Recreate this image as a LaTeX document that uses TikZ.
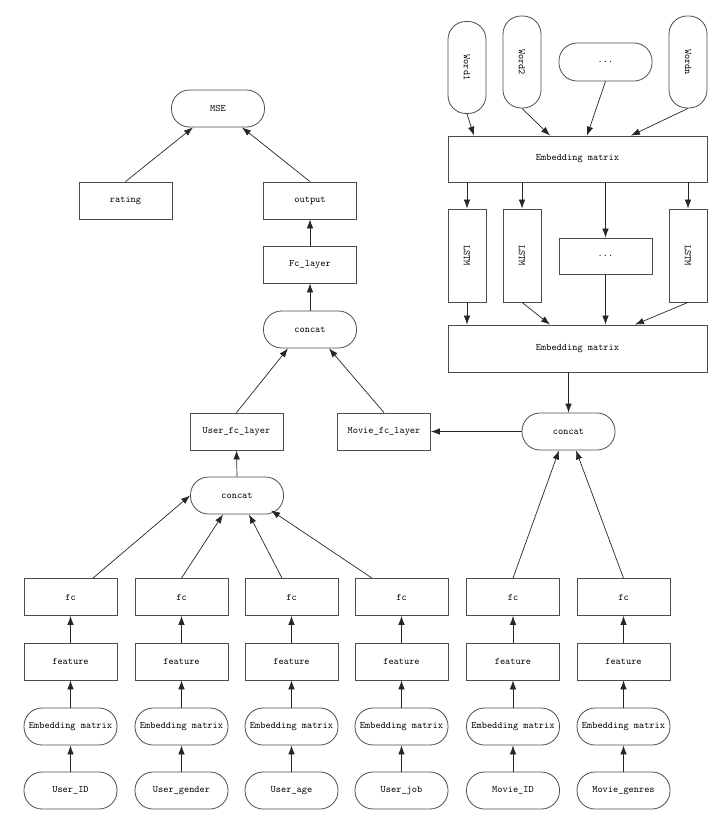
\documentclass[tikz,border=0pt]{standalone}
\usetikzlibrary{arrows.meta,calc}
\begin{document}
\begin{tikzpicture}[x=1pt,y=-1pt,
  every node/.style={font=\ttfamily\fontsize{9.9}{11}\selectfont, inner sep=0pt, text=black},
  box/.style={draw=black!70, line width=0.8pt, minimum width=93pt, minimum height=37pt},
  pill/.style={box, rounded corners=18pt},
  vpill/.style={draw=black!70, line width=0.8pt, minimum width=38pt, minimum height=92pt, rounded corners=18pt},
  vbox/.style={draw=black!70, line width=0.8pt, minimum width=38pt, minimum height=93pt},
  wide/.style={draw=black!70, line width=0.8pt, minimum width=259pt, minimum height=46pt},
  arr/.style={draw=black!85, line width=0.7pt, -{Latex[length=9pt,width=6.5pt]}},
  vtext/.style={rotate=-90}
]
\useasboundingbox (0,0) rectangle (720,817);

% ---------- loss ----------
\node[pill] (mse) at (218,108.5) {MSE};
\node[box] (rating) at (125.5,200.5) {rating};
\node[box] (output) at (310,200.5) {output};
\node[box] (fcl) at (310,264.5) {Fc\_layer};
\node[pill] (tc) at (310,329.5) {concat};
\node[box] (ufl) at (236.5,431.5) {User\_fc\_layer};
\node[box] (mfl) at (384,431.5) {Movie\_fc\_layer};
\node[pill] (uc) at (237,495.5) {concat};
\node[pill] (mc) at (568.5,431.5) {concat};

% ---------- text branch ----------
\node[vpill] (w1) at (467,67.5) {};
\node[vtext] at (w1) {Word1};
\node[vpill] (w2) at (522,62) {};
\node[vtext] at (w2) {Word2};
\node[box, rounded corners=18pt, minimum height=38pt] (wd) at (605.5,62) {...};
\node[vpill] (wn) at (688,62) {};
\node[vtext] at (wn) {Wordn};
\node[wide] (e1) at (577.5,159) {Embedding matrix};

\node[vbox] (l1) at (467,255.5) {};
\node[vtext] at (l1) {LSTM};
\node[vbox] (l2) at (522,255.5) {};
\node[vtext] at (l2) {LSTM};
\node[box, minimum height=36pt] (ld) at (605.5,256) {...};
\node[vbox] (l4) at (688,255.5) {};
\node[vtext] at (l4) {LSTM};
\node[wide, minimum height=47pt] (e2) at (577.5,348.5) {Embedding matrix};

% ---------- feature columns ----------
\foreach \i/\x/\name in {1/70.5/User\_ID, 2/181.5/User\_gender, 3/291.5/User\_age,
                         4/401.5/User\_job, 5/513/Movie\_ID, 6/623.5/Movie\_genres}{
  \node[box] (fc\i) at (\x,597) {fc};
  \node[box] (ft\i) at (\x,661.5) {feature};
  \node[pill] (em\i) at (\x,726.5) {Embedding matrix};
  \node[pill] (in\i) at (\x,790.5) {\name};
  \draw[arr] (in\i.north) -- (em\i.south);
  \draw[arr] (em\i.north) -- (ft\i.south);
  \draw[arr] (ft\i.north) -- (fc\i.south);
}

% ---------- user side ----------
\draw[arr] ($(fc1.north)+(22.5,0)$) -- (uc.west);
\draw[arr] (fc2.north) -- ($(uc.south)+(-14,0)$);
\draw[arr] ($(fc3.north)+(-9.5,0)$) -- ($(uc.south)+(12,0)$);
\draw[arr] ($(fc4.north)+(-29.5,0)$) -- ($(uc.south)+(34,-4)$);
\draw[arr] (uc.north) -- (ufl.south);

% ---------- movie side ----------
\draw[arr] (fc5.north) -- ($(mc.south)+(-9.5,0)$);
\draw[arr] (fc6.north) -- ($(mc.south)+(7.5,0)$);
\draw[arr] (e2.south -| mc) -- (mc.north);
\draw[arr] (mc.west) -- (mfl.east);

% ---------- text branch connectors ----------
\draw[arr] (w1.south) -- ($(e1.north)+(-103.5,0)$);
\draw[arr] (w2.south) -- ($(e1.north)+(-27.5,0)$);
\draw[arr] (wd.south) -- ($(e1.north)+(9.5,0)$);
\draw[arr] (wn.south) -- ($(e1.north)+(53.5,0)$);
\draw[arr] (e1.south -| l1) -- (l1.north);
\draw[arr] (e1.south -| l2) -- (l2.north);
\draw[arr] (e1.south -| ld) -- (ld.north);
\draw[arr] (e1.south -| l4) -- (l4.north);
\draw[arr] (l1.south) -- (e2.north -| l1);
\draw[arr] (l2.south) -- ($(e2.north)+(-27.5,0)$);
\draw[arr] (ld.south) -- (e2.north -| ld);
\draw[arr] (l4.south) -- ($(e2.north)+(57.5,0)$);

% ---------- merge and loss ----------
\draw[arr] (ufl.north) -- ($(tc.south)+(-22,0)$);
\draw[arr] (mfl.north) -- ($(tc.south)+(19,0)$);
\draw[arr] (tc.north) -- (fcl.south);
\draw[arr] (fcl.north) -- (output.south);
\draw[arr] (rating.north) -- ($(mse.south)+(-25,0)$);
\draw[arr] (output.north) -- ($(mse.south)+(24,0)$);
\end{tikzpicture}
\end{document}
